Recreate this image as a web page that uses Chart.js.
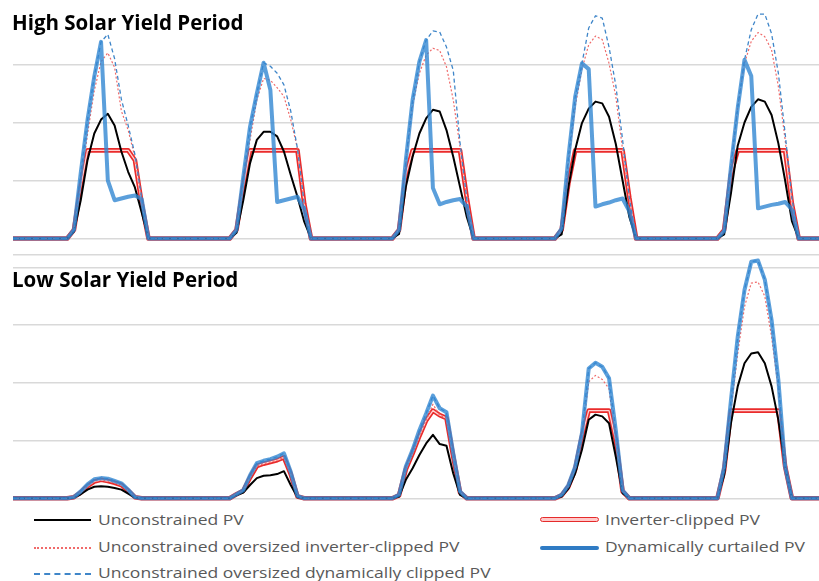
<!DOCTYPE html>
<html>
<head>
<meta charset="utf-8">
<script src="https://cdn.jsdelivr.net/npm/chart.js@4.4.1/dist/chart.umd.min.js"></script>
<style>
  body { margin: 0; background: #fff; width: 819px; height: 581px; position: relative; overflow: hidden; font-family: 'Open Sans', sans-serif; }
  canvas { position: absolute; left: 0; }
  #topChart { top: 0; }
  #lowChart { top: 250px; }
  .ttl { position: absolute; left: 12px; font-weight: bold; font-size: 20.5px; line-height: 20px; color: #000; white-space: nowrap; }
  .txt { position: absolute; font-size: 14px; line-height: 14px; color: #595959; white-space: nowrap; transform: scaleX(1.25); transform-origin: left center; }
  .smp { position: absolute; box-sizing: border-box; }
</style>
</head>
<body>
<canvas id="topChart" width="819" height="250"></canvas>
<canvas id="lowChart" width="819" height="260"></canvas>

<div class="ttl" style="top:12px">High Solar Yield Period</div>
<div class="ttl" style="top:269px">Low Solar Yield Period</div>

<div class="smp" style="left:34px;top:519px;width:57px;height:2px;background:#000"></div>
<div class="txt" style="left:98px;top:513px">Unconstrained PV</div>
<div class="smp" style="left:34px;top:546.5px;width:57px;border-top:2px dotted #f06a6a"></div>
<div class="txt" style="left:98px;top:539.5px">Unconstrained oversized inverter-clipped PV</div>
<div class="smp" style="left:34px;top:573px;width:57px;border-top:2px dashed #3f86c9"></div>
<div class="txt" style="left:98px;top:565.5px">Unconstrained oversized dynamically clipped PV</div>

<div class="smp" style="left:540px;top:517px;width:59px;height:5px;border:1.3px solid #e52b2b;background:#ffc9c9;border-radius:3px"></div>
<div class="txt" style="left:605px;top:513px">Inverter-clipped PV</div>
<div class="smp" style="left:540px;top:545.5px;width:59px;height:4px;background:#2f7bc4;border-radius:2px"></div>
<div class="txt" style="left:605px;top:539.5px">Dynamically curtailed PV</div>

<script>
// 5 days x 24 hours, one row per day (hour 0 .. 23)
const hours = Array.from({ length: 120 }, (_, i) => i);

// High solar yield period
const topBlack = [
  0,0,0,0,0,0,0,0, 0,0.12,0.66,1.35,1.81,2.05,2.15,1.95,1.5,1.15,0.88,0.45,0, 0,0,0,
  0,0,0,0,0,0,0,0, 0,0.1,0.66,1.3,1.7,1.84,1.84,1.76,1.5,1.1,0.72,0.29,0, 0,0,0,
  0,0,0,0,0,0,0,0, 0,0.08,0.89,1.41,1.81,2.07,2.22,2.19,1.87,1.41,0.89,0.37,0, 0,0,0,
  0,0,0,0,0,0,0,0, 0,0.07,0.89,1.53,1.99,2.24,2.36,2.33,2.1,1.63,1.0,0.37,0, 0,0,0,
  0,0,0,0,0,0,0,0, 0,0.07,0.78,1.6,2.0,2.27,2.4,2.36,2.13,1.64,1.0,0.3,0, 0,0,0
];
const topClipped = [
  0,0,0,0,0,0,0,0, 0,0.15,0.9,1.52,1.52,1.52,1.52,1.52,1.52,1.52,1.35,0.6,0, 0,0,0,
  0,0,0,0,0,0,0,0, 0,0.15,0.9,1.52,1.52,1.52,1.52,1.52,1.52,1.52,1.52,0.6,0, 0,0,0,
  0,0,0,0,0,0,0,0, 0,0.15,1.1,1.52,1.52,1.52,1.52,1.52,1.52,1.52,1.52,0.7,0, 0,0,0,
  0,0,0,0,0,0,0,0, 0,0.15,0.95,1.52,1.52,1.52,1.52,1.52,1.52,1.52,1.52,0.7,0, 0,0,0,
  0,0,0,0,0,0,0,0, 0,0.15,1.1,1.52,1.52,1.52,1.52,1.52,1.52,1.52,1.52,0.6,0, 0,0,0
];
const topOverClip = [
  0,0,0,0,0,0,0,0, 0,0.15,0.95,1.8,2.55,3.05,3.2,2.95,2.2,1.87,1.4,0.65,0, 0,0,0,
  0,0,0,0,0,0,0,0, 0,0.15,1.0,1.7,2.39,2.76,2.73,2.6,2.45,2.05,1.55,0.6,0, 0,0,0,
  0,0,0,0,0,0,0,0, 0,0.15,1.3,2.3,2.85,3.16,3.28,3.24,2.96,2.39,1.58,0.68,0, 0,0,0,
  0,0,0,0,0,0,0,0, 0,0.15,1.3,2.27,2.92,3.34,3.49,3.43,3.02,2.45,1.53,0.7,0, 0,0,0,
  0,0,0,0,0,0,0,0, 0,0.15,1.3,2.27,3.02,3.4,3.55,3.48,3.25,2.62,1.7,0.66,0, 0,0,0
];
const topCurtailed = [
  0,0,0,0,0,0,0,0, 0,0.15,1.13,2.04,2.79,3.39,1.0,0.66,0.69,0.72,0.74,0.68,0, 0,0,0,
  0,0,0,0,0,0,0,0, 0,0.15,1.06,1.93,2.5,3.03,2.56,0.63,0.66,0.69,0.72,0.5,0, 0,0,0,
  0,0,0,0,0,0,0,0, 0,0.15,1.35,2.39,3.05,3.42,0.87,0.59,0.63,0.66,0.68,0.55,0, 0,0,0,
  0,0,0,0,0,0,0,0, 0,0.17,1.4,2.44,3.02,2.92,0.55,0.59,0.62,0.66,0.69,0.47,0, 0,0,0,
  0,0,0,0,0,0,0,0, 0,0.13,1.23,2.25,3.08,2.8,0.52,0.55,0.58,0.6,0.63,0.5,0, 0,0,0
];
const topOverDyn = [
  0,0,0,0,0,0,0,0, 0,0.15,1.13,2.04,2.79,3.39,3.52,3.1,2.4,1.95,1.45,0.7,0, 0,0,0,
  0,0,0,0,0,0,0,0, 0,0.15,1.06,1.93,2.5,3.03,2.97,2.85,2.65,2.2,1.55,0.6,0, 0,0,0,
  0,0,0,0,0,0,0,0, 0,0.15,1.35,2.39,3.05,3.42,3.58,3.56,3.3,2.9,1.65,0.68,0, 0,0,0,
  0,0,0,0,0,0,0,0, 0,0.17,1.4,2.44,3.02,3.63,3.84,3.8,3.3,2.64,1.7,0.7,0, 0,0,0,
  0,0,0,0,0,0,0,0, 0,0.13,1.23,2.25,3.08,3.6,3.87,3.87,3.53,2.85,1.81,0.7,0, 0,0,0
];

// Low solar yield period
const lowBlack = [
  0,0,0,0,0,0,0,0, 0,0.01,0.07,0.15,0.2,0.21,0.2,0.18,0.15,0.08,0.01,0,0, 0,0,0,
  0,0,0,0,0,0,0,0, 0,0.05,0.1,0.23,0.35,0.39,0.4,0.42,0.47,0.23,0.02,0,0, 0,0,0,
  0,0,0,0,0,0,0,0, 0,0.03,0.32,0.52,0.75,0.95,1.1,0.94,0.91,0.43,0.06,0,0, 0,0,0,
  0,0,0,0,0,0,0,0, 0,0.03,0.17,0.43,0.84,1.36,1.45,1.42,1.3,0.72,0.09,0,0, 0,0,0,
  0,0,0,0,0,0,0,0, 0,0.4,1.3,1.94,2.34,2.51,2.53,2.34,1.94,1.36,0.55,0,0, 0,0,0
];
const lowClipped = [
  0,0,0,0,0,0,0,0, 0,0.02,0.1,0.21,0.29,0.32,0.3,0.27,0.23,0.13,0.02,0,0, 0,0,0,
  0,0,0,0,0,0,0,0, 0,0.07,0.13,0.36,0.56,0.6,0.63,0.66,0.71,0.42,0.03,0,0, 0,0,0,
  0,0,0,0,0,0,0,0, 0,0.05,0.5,0.78,1.08,1.35,1.52,1.44,1.39,0.72,0.1,0,0, 0,0,0,
  0,0,0,0,0,0,0,0, 0,0.05,0.2,0.5,1.07,1.52,1.52,1.52,1.52,1.0,0.12,0,0, 0,0,0,
  0,0,0,0,0,0,0,0, 0,0.49,1.52,1.52,1.52,1.52,1.52,1.52,1.52,1.52,0.55,0,0, 0,0,0
];
const lowOverClip = [
  0,0,0,0,0,0,0,0, 0,0.02,0.1,0.21,0.29,0.32,0.3,0.27,0.23,0.13,0.02,0,0, 0,0,0,
  0,0,0,0,0,0,0,0, 0,0.07,0.13,0.36,0.56,0.6,0.63,0.66,0.71,0.42,0.03,0,0, 0,0,0,
  0,0,0,0,0,0,0,0, 0,0.05,0.5,0.78,1.08,1.35,1.63,1.44,1.39,0.72,0.1,0,0, 0,0,0,
  0,0,0,0,0,0,0,0, 0,0.05,0.2,0.5,1.07,2.02,2.13,2.06,1.9,1.0,0.12,0,0, 0,0,0,
  0,0,0,0,0,0,0,0, 0,0.49,1.53,2.51,3.32,3.73,3.75,3.5,2.8,1.9,0.55,0,0, 0,0,0
];
const lowCurtailed = [
  0,0,0,0,0,0,0,0, 0,0.02,0.12,0.24,0.33,0.35,0.34,0.3,0.26,0.15,0.02,0,0, 0,0,0,
  0,0,0,0,0,0,0,0, 0,0.07,0.14,0.4,0.61,0.65,0.68,0.72,0.78,0.46,0.04,0,0, 0,0,0,
  0,0,0,0,0,0,0,0, 0,0.06,0.55,0.84,1.18,1.47,1.78,1.56,1.49,0.78,0.12,0,0, 0,0,0,
  0,0,0,0,0,0,0,0, 0,0.06,0.23,0.55,1.13,2.25,2.35,2.28,2.08,1.18,0.14,0,0, 0,0,0,
  0,0,0,0,0,0,0,0, 0,0.55,1.7,2.8,3.61,4.1,4.12,3.79,3.09,2.05,0.55,0,0, 0,0,0
];
const lowOverDyn = [
  0,0,0,0,0,0,0,0, 0,0.02,0.12,0.24,0.33,0.35,0.34,0.3,0.26,0.15,0.02,0,0, 0,0,0,
  0,0,0,0,0,0,0,0, 0,0.07,0.14,0.4,0.61,0.65,0.68,0.72,0.78,0.46,0.04,0,0, 0,0,0,
  0,0,0,0,0,0,0,0, 0,0.06,0.55,0.84,1.18,1.47,1.78,1.56,1.49,0.78,0.12,0,0, 0,0,0,
  0,0,0,0,0,0,0,0, 0,0.06,0.23,0.55,1.13,2.25,2.35,2.28,2.08,1.18,0.14,0,0, 0,0,0,
  0,0,0,0,0,0,0,0, 0,0.55,1.7,2.8,3.61,4.1,4.12,3.79,3.09,2.05,0.55,0,0, 0,0,0
];

// gridline values for each panel
const topGrid = [0, 1, 2, 3];
const lowGrid = [0, 1, 2, 3, 4, 4.22];

function makeDatasets(black, clipped, overClip, curtailed, overDyn) {
  return [
    { label: 'Dynamically curtailed PV', data: curtailed, borderColor: 'rgba(50,135,210,0.8)', borderWidth: 4, order: 0 },
    { label: 'Unconstrained oversized dynamically clipped PV', data: overDyn, borderColor: '#3f86c9', borderWidth: 1.3, borderDash: [4, 3], order: 1 },
    { label: 'Unconstrained oversized inverter-clipped PV', data: overClip, borderColor: '#ef6b6b', borderWidth: 1.2, borderDash: [2, 2], order: 2 },
    { label: 'Unconstrained PV', data: black, borderColor: '#000', borderWidth: 2, order: 3 },
    { label: 'Inverter-clipped PV core', data: clipped, borderColor: '#ffd2d2', borderWidth: 1.3, order: 4 },
    { label: 'Inverter-clipped PV', data: clipped, borderColor: '#ea2c2c', borderWidth: 4.6, order: 5 }
  ];
}

function makeChart(id, datasets, yMax, grid, pad) {
  return new Chart(document.getElementById(id), {
    type: 'line',
    data: { labels: hours, datasets: datasets },
    options: {
      responsive: false,
      animation: false,
      events: [],
      layout: { padding: pad },
      elements: { point: { radius: 0 }, line: { tension: 0, borderJoinStyle: 'round' } },
      datasets: { line: { clip: 10 } },
      plugins: { legend: { display: false }, tooltip: { enabled: false } },
      scales: {
        x: { display: false, offset: false },
        y: {
          min: 0,
          max: yMax,
          afterBuildTicks: axis => { axis.ticks = grid.map(v => ({ value: v })); },
          afterFit: axis => { axis.width = 0; },
          ticks: { display: false },
          border: { display: false },
          grid: { color: '#d9d9d9', lineWidth: 1.5, drawTicks: false }
        }
      }
    }
  });
}

makeChart('topChart', makeDatasets(topBlack, topClipped, topOverClip, topCurtailed, topOverDyn),
  4.1, topGrid, { left: 13, right: 0, top: 0.7, bottom: 11.5 });
makeChart('lowChart', makeDatasets(lowBlack, lowClipped, lowOverClip, lowCurtailed, lowOverDyn),
  4.22, lowGrid, { left: 13, right: 0, top: 4.8, bottom: 11.7 });
</script>
</body>
</html>
